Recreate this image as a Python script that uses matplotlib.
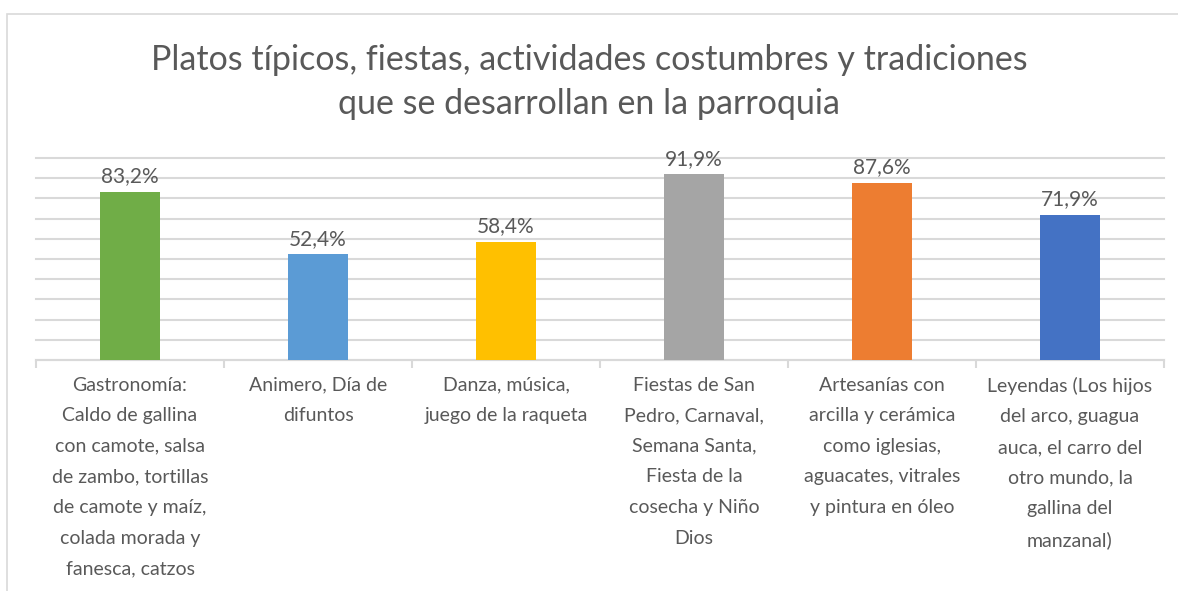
"""Excel-style column chart: platos típicos, fiestas y tradiciones de la parroquia."""
import matplotlib
matplotlib.use("Agg")
import matplotlib.pyplot as plt
from matplotlib.patches import Rectangle

TITLE = ("Platos típicos, fiestas, actividades costumbres y tradiciones\n"
         "que se desarrollan en la parroquia")

categories = [
    "Gastronomía:\nCaldo de gallina\ncon camote, salsa\nde zambo, tortillas\nde camote y maíz,\ncolada morada y\nfanesca, catzos",
    "Animero, Día de\ndifuntos",
    "Danza, música,\njuego de la raqueta",
    "Fiestas de San\nPedro, Carnaval,\nSemana Santa,\nFiesta de la\ncosecha y Niño\nDios",
    "Artesanías con\narcilla y cerámica\ncomo iglesias,\naguacates, vitrales\ny pintura en óleo",
    "Leyendas (Los hijos\ndel arco, guagua\nauca, el carro del\notro mundo, la\ngallina del\nmanzanal)",
]
values = [83.2, 52.4, 58.4, 91.9, 87.6, 71.9]
colors = ["#70AD47", "#5B9BD5", "#FFC000", "#A5A5A5", "#ED7D31", "#4472C4"]

TEXT = "#595959"
GRID = "#D9D9D9"
plt.rcParams["font.family"] = ["Lato", "DejaVu Sans"]

W, H = 1178, 591
fig = plt.figure(figsize=(W / 100, H / 100), dpi=100)

# chart frame
fig.patches.append(Rectangle((7 / W, -0.1), 1.2, 1 - 14 / H + 0.1, transform=fig.transFigure,
                             fill=False, edgecolor=GRID, linewidth=1.2))

ax = fig.add_axes([36 / W, 1 - 360 / H, (1164 - 36) / W, (360 - 158) / H])
x = list(range(len(values)))
ax.bar(x, values, width=0.314, color=colors, zorder=3)
ax.set_xlim(-0.5, len(values) - 0.5)
ax.set_ylim(0, 100)
ax.set_yticks(range(0, 101, 10))
ax.yaxis.grid(True, color=GRID, linewidth=1.5)
for gl in ax.get_ygridlines():
    gl.set_clip_on(False)
ax.set_axisbelow(True)
ax.tick_params(axis="y", left=False, labelleft=False)

for s in ("top", "right", "left"):
    ax.spines[s].set_visible(False)
ax.spines["bottom"].set_color(GRID)
ax.spines["bottom"].set_linewidth(1.5)

ax.set_xticks(x)
ax.set_xticklabels(categories, fontsize=14, color=TEXT, linespacing=1.97, va="top")
ax.tick_params(axis="x", length=0, pad=12)
ax.set_xticks([i - 0.5 for i in range(len(values) + 1)], minor=True)
ax.tick_params(axis="x", which="minor", length=6, width=1.5, color=GRID)

for xi, v in zip(x, values):
    ax.annotate(f"{v:.1f}%".replace(".", ","), (xi, v), xytext=(0, 4),
                textcoords="offset points", ha="center", va="bottom",
                fontsize=15, color=TEXT)

fig.text(0.5, 1 - 82 / H, TITLE, ha="center", va="center", fontsize=24.5,
         color=TEXT, linespacing=1.45)

fig.savefig("out.png", dpi=100, facecolor="white")
